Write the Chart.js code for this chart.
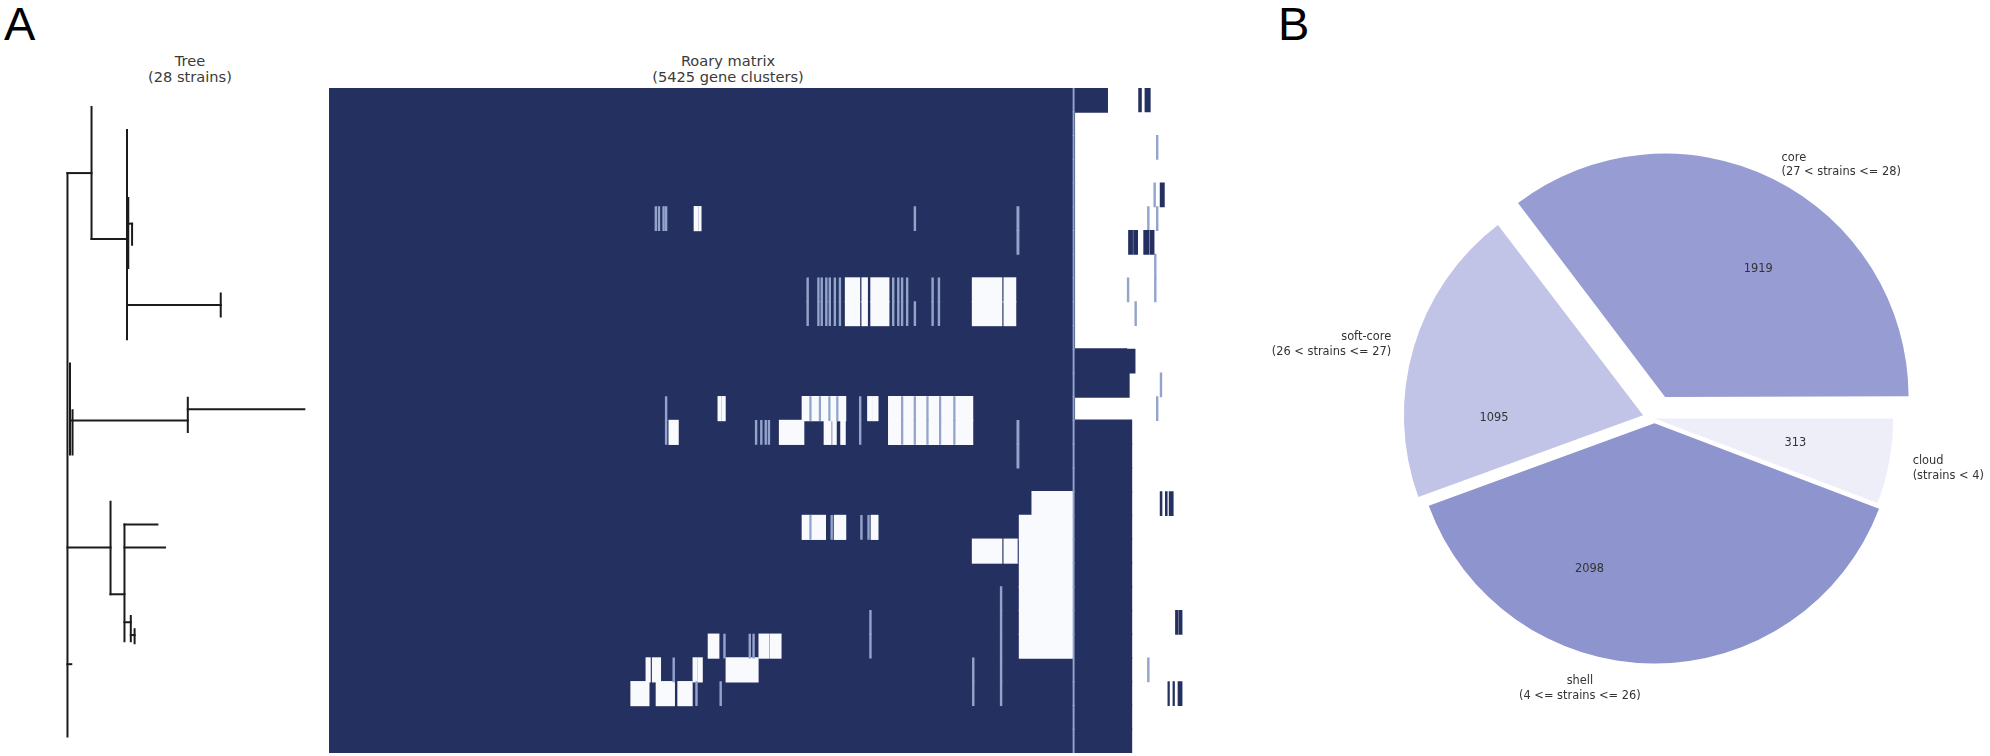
<!DOCTYPE html>
<html>
<head>
<meta charset="utf-8">
<script src="https://cdn.jsdelivr.net/npm/chart.js@4.4.1/dist/chart.umd.min.js"></script>
<style>
    body { margin: 0; background: #fff; width: 1990px; height: 756px; position: relative; overflow: hidden; font-family: "DejaVu Sans", sans-serif; }
    .panel { position: absolute; font-family: "Liberation Sans", Arial, sans-serif; font-size: 47px; line-height: 47px; color: #000; }
    .title { position: absolute; width: 300px; text-align: center; font-size: 14.6px; line-height: 15.9px; color: #3a3a3a; }
    .box { position: absolute; }
</style>
</head>
<body>
<div class="panel" style="left:4px;top:0">A</div>
<div class="panel" style="left:1278px;top:0">B</div>
<div class="title" style="left:40px;top:53px">Tree<br>(28 strains)</div>
<div class="title" style="left:578px;top:53px">Roary matrix<br>(5425 gene clusters)</div>
<div class="box" style="left:51px;top:88px;width:266px;height:665px"><canvas id="tree"></canvas></div>
<div class="box" style="left:329px;top:88px;width:858px;height:665px"><canvas id="matrix"></canvas></div>
<div class="box" style="left:1269px;top:100px;width:771px;height:637px"><canvas id="pie"></canvas></div>
<script>
// tree branches: [x0, y0, x1, y1], x = branch length, y = leaf position
const treeSegments = [
    [0, 2.83, 0, 27],
    [0, 2.83, 1.9, 2.83],
    [1.9, 0, 1.9, 5.66],
    [1.9, 5.66, 4.7, 5.66],
    [4.7, 0.98, 4.7, 9.96],
    [4.7, 8.49, 12.1, 8.49],
    [12.1, 8.0, 12.1, 8.98],
    [4.8, 3.9, 4.8, 6.9],
    [4.8, 5.0, 5.1, 5.0],
    [5.1, 5.0, 5.1, 5.9],
    [0.2, 11.0, 0.2, 14.9],
    [0.4, 13.0, 0.4, 14.9],
    [0.2, 13.45, 9.5, 13.45],
    [9.5, 12.47, 9.5, 13.94],
    [9.5, 12.96, 18.7, 12.96],
    [0, 18.89, 3.4, 18.89],
    [3.4, 16.93, 3.4, 20.9],
    [3.4, 20.9, 4.5, 20.9],
    [4.5, 17.91, 4.5, 22.92],
    [4.5, 17.91, 7.1, 17.91],
    [4.5, 18.89, 7.7, 18.89],
    [4.5, 22.1, 5.0, 22.1],
    [5.0, 21.83, 5.0, 22.92],
    [5.0, 22.65, 5.3, 22.65],
    [5.3, 22.4, 5.3, 23.0],
    [0, 23.9, 0.3, 23.9]
];

// roary matrix, gene cluster index 0..5425
const geneClusters = 5425;
const strainLabels = Array.from({length: 28}, (_, i) => 'strain ' + (i + 1));
const presentEnd = [4919, 4711, 4711, 4711, 4711, 4711, 4711, 4711, 4711, 4711, 4711, 5040, 5056, 4711,
    5072, 5072, 5072, 5072, 5072, 5072, 5072, 5072, 5072, 5072, 5072, 5072, 5072, 5072];

// [firstRow, lastRow, start, end]
const absentRuns = [
    [5, 5, 2310, 2332], [5, 5, 2340, 2351],
    [8, 9, 3266, 3354], [8, 9, 3371, 3403], [8, 9, 3427, 3539], [8, 9, 4069, 4253], [8, 9, 4269, 4341],
    [13, 13, 2461, 2478], [13, 13, 2486, 2504], [13, 13, 2993, 3266], [13, 13, 3407, 3430], [13, 13, 3438, 3470], [13, 13, 3539, 4069],
    [14, 14, 2151, 2207], [14, 14, 2849, 3001], [14, 14, 3132, 3174], [14, 14, 3186, 3206], [14, 14, 3237, 3263], [14, 14, 3539, 4069],
    [17, 17, 4446, 4703], [18, 23, 4366, 4703],
    [18, 18, 2993, 3138], [18, 18, 3196, 3266], [18, 18, 3429, 3470],
    [19, 19, 4069, 4253], [19, 19, 4269, 4350],
    [23, 23, 2399, 2464], [23, 23, 2720, 2780], [23, 23, 2790, 2857],
    [24, 24, 2006, 2030], [24, 24, 2046, 2095], [24, 24, 2303, 2327], [24, 24, 2335, 2359], [24, 24, 2512, 2712],
    [25, 25, 1910, 2022], [25, 25, 2070, 2183], [25, 25, 2207, 2295]
];

const partialRuns = [
    [0, 27, 4705, 4711],
    [5, 5, 2062, 2071], [5, 5, 2082, 2091], [5, 5, 2111, 2120], [5, 5, 2127, 2136], [5, 5, 3700, 3709],
    [5, 6, 4350, 4362],
    [8, 9, 3022, 3031], [8, 9, 3090, 3099], [8, 9, 3111, 3120], [8, 9, 3140, 3149], [8, 9, 3162, 3171],
    [8, 9, 3194, 3203], [8, 9, 3226, 3235], [8, 9, 3563, 3572], [8, 9, 3595, 3604], [8, 9, 3619, 3628],
    [8, 9, 3651, 3660], [9, 9, 3700, 3709], [8, 9, 3812, 3821], [8, 9, 3852, 3861],
    [13, 14, 2127, 2136], [13, 14, 3354, 3363],
    [13, 13, 3040, 3048], [13, 13, 3100, 3108], [13, 13, 3160, 3168], [13, 13, 3210, 3218],
    [13, 14, 3620, 3628], [13, 14, 3700, 3708], [13, 14, 3780, 3788], [13, 14, 3860, 3868], [13, 14, 3950, 3958],
    [14, 14, 2696, 2705], [14, 14, 2729, 2738], [14, 14, 2757, 2766], [14, 14, 2777, 2786],
    [14, 15, 4350, 4362],
    [18, 18, 3040, 3048], [18, 18, 3174, 3183], [18, 18, 3362, 3371], [18, 18, 3407, 3416],
    [21, 25, 4245, 4254], [22, 23, 3419, 3428],
    [23, 23, 2496, 2505], [23, 23, 2656, 2665], [23, 23, 2680, 2689],
    [24, 24, 2175, 2184], [24, 25, 4069, 4078],
    [25, 25, 2319, 2328], [25, 25, 2472, 2481],
    [2, 2, 5232, 5241], [4, 4, 5216, 5225], [5, 5, 5176, 5185], [5, 5, 5232, 5241],
    [7, 8, 5220, 5229], [8, 8, 5048, 5057], [9, 9, 5096, 5105], [12, 12, 5256, 5265],
    [13, 13, 5232, 5241], [24, 24, 5176, 5185]
];

const extraPresentRuns = [
    [0, 0, 5120, 5136], [0, 0, 5160, 5192],
    [4, 4, 5256, 5281],
    [6, 6, 5056, 5080], [6, 6, 5088, 5112], [6, 6, 5152, 5184], [6, 6, 5192, 5216],
    [11, 11, 5040, 5096],
    [17, 17, 5256, 5266], [17, 17, 5289, 5299], [17, 17, 5313, 5337],
    [22, 22, 5353, 5369], [22, 22, 5377, 5393],
    [25, 25, 5305, 5313], [25, 25, 5337, 5345], [25, 25, 5369, 5393]
];

// pie
const pieCategories = ['core', 'soft-core', 'shell', 'cloud'];
const pieRanges = ['(27 < strains <= 28)', '(26 < strains <= 27)', '(4 <= strains <= 26)', '(strains < 4)'];
const pieCounts = [1919, 1095, 2098, 313];
const pieExplode = [0.1, 0.05, 0.02, 0];
const pieColors = ['#979DD3', '#C1C4E6', '#8E94CD', '#EEEEF9'];
// where the count sits inside each slice: angle (deg, counter-clockwise from 3 o'clock), fraction of radius
const countLabelAngle = [54, 181, 246, 350];
const countLabelDistance = [0.665, 0.625, 0.67, 0.6];

Chart.defaults.font.family = '"DejaVu Sans", sans-serif';
Chart.defaults.animation = false;
Chart.defaults.plugins.legend.display = false;
Chart.defaults.plugins.tooltip.enabled = false;

let treeCanvas = document.getElementById('tree');
let treeChart = new Chart(treeCanvas, {
    type: 'scatter',
    data: {
        datasets: treeSegments.map(function (s) {
            return {
                data: [{x: s[0], y: s[1]}, {x: s[2], y: s[3]}],
                showLine: true,
                borderColor: '#1b1b1b',
                borderWidth: 2,
                borderCapStyle: 'square',
                pointRadius: 0,
                clip: false
            };
        })
    },
    options: {
        responsive: true,
        maintainAspectRatio: false,
        layout: {padding: 0},
        scales: {
            x: {type: 'linear', min: -1.3, max: 19.7, display: false},
            y: {type: 'linear', min: -0.82, max: 27.71, reverse: true, display: false}
        }
    }
});

function runsToDatasets(runs, color, order, inflate) {
    let byRow = strainLabels.map(function () { return []; });
    runs.forEach(function (run) {
        for (let r = run[0]; r <= run[1]; r++) {
            byRow[r].push([run[2], run[3]]);
        }
    });
    let depth = Math.max.apply(null, byRow.map(function (r) { return r.length; }));
    let sets = [];
    for (let k = 0; k < depth; k++) {
        sets.push({
            data: byRow.map(function (r) { return r[k] || null; }),
            backgroundColor: color,
            inflateAmount: inflate,
            order: order
        });
    }
    return sets;
}

let matrixDatasets = [{
    data: presentEnd.map(function (end) { return [0, end]; }),
    backgroundColor: '#243060',
    inflateAmount: 1,
    order: 4
}].concat(
    runsToDatasets(absentRuns, '#f8fafd', 3, 0.7),
    runsToDatasets(partialRuns, '#93a4cb', 2, 0.5),
    runsToDatasets(extraPresentRuns, '#243060', 1, 0.5)
);

let matrixCanvas = document.getElementById('matrix');
let matrixChart = new Chart(matrixCanvas, {
    type: 'bar',
    data: {
        labels: strainLabels,
        datasets: matrixDatasets
    },
    options: {
        indexAxis: 'y',
        responsive: true,
        maintainAspectRatio: false,
        layout: {padding: 0},
        datasets: {
            bar: {grouped: false, barPercentage: 1, categoryPercentage: 1, borderWidth: 0}
        },
        scales: {
            x: {type: 'linear', min: 0, max: geneClusters, display: false},
            y: {display: false}
        }
    }
});

const pieRadius = 238.6;
// slice shift in px; Chart.js arcs move by offset / 4
let pieShift = pieExplode.map(function (e) { return e * pieRadius; }).reverse();

let pieLabels = {
    id: 'pieLabels',
    afterDatasetsDraw: function (chart) {
        let ctx = chart.ctx;
        let meta = chart.getDatasetMeta(0);
        ctx.save();
        ctx.fillStyle = '#333';
        ctx.font = '11.4px "DejaVu Sans"';
        ctx.textBaseline = 'middle';
        meta.data.forEach(function (arc, j) {
            let i = pieCategories.length - 1 - j;
            let p = arc.getProps(['x', 'y', 'startAngle', 'endAngle', 'outerRadius']);
            let mid = (p.startAngle + p.endAngle) / 2;
            let cos = Math.cos(mid), sin = Math.sin(mid);
            let cx = p.x + cos * pieShift[j];
            let cy = p.y + sin * pieShift[j];

            let a = -countLabelAngle[i] * Math.PI / 180;
            let d = countLabelDistance[i] * p.outerRadius;
            ctx.textAlign = 'center';
            ctx.fillText(String(pieCounts[i]), cx + Math.cos(a) * d, cy + Math.sin(a) * d);

            let lx = cx + cos * 1.1 * p.outerRadius;
            let ly = cy + sin * 1.1 * p.outerRadius + 3;
            let lines = [pieCategories[i], pieRanges[i]];
            let w = Math.max.apply(null, lines.map(function (l) { return ctx.measureText(l).width; }));
            let bx, align;
            if (Math.abs(cos) < 0.1) {
                align = 'center';
                bx = cos >= 0 ? lx + w / 2 : lx - w / 2 - 12;
            } else if (cos > 0) {
                align = 'left';
                bx = lx;
            } else {
                align = 'right';
                bx = lx;
            }
            ctx.textAlign = align;
            lines.forEach(function (l, k) {
                ctx.fillText(l, bx, ly + (k - 0.5) * 14.6);
            });
        });
        ctx.restore();
    }
};

let pieCanvas = document.getElementById('pie');
let pieChart = new Chart(pieCanvas, {
    type: 'pie',
    data: {
        labels: pieCategories.slice().reverse(),
        datasets: [{
            data: pieCounts.slice().reverse(),
            backgroundColor: pieColors.slice().reverse(),
            offset: pieShift.map(function (s) { return s * 4; }),
            borderWidth: 0
        }]
    },
    options: {
        responsive: true,
        maintainAspectRatio: false,
        rotation: 90,
        radius: pieRadius,
        layout: {padding: 0}
    },
    plugins: [pieLabels]
});
</script>
</body>
</html>
